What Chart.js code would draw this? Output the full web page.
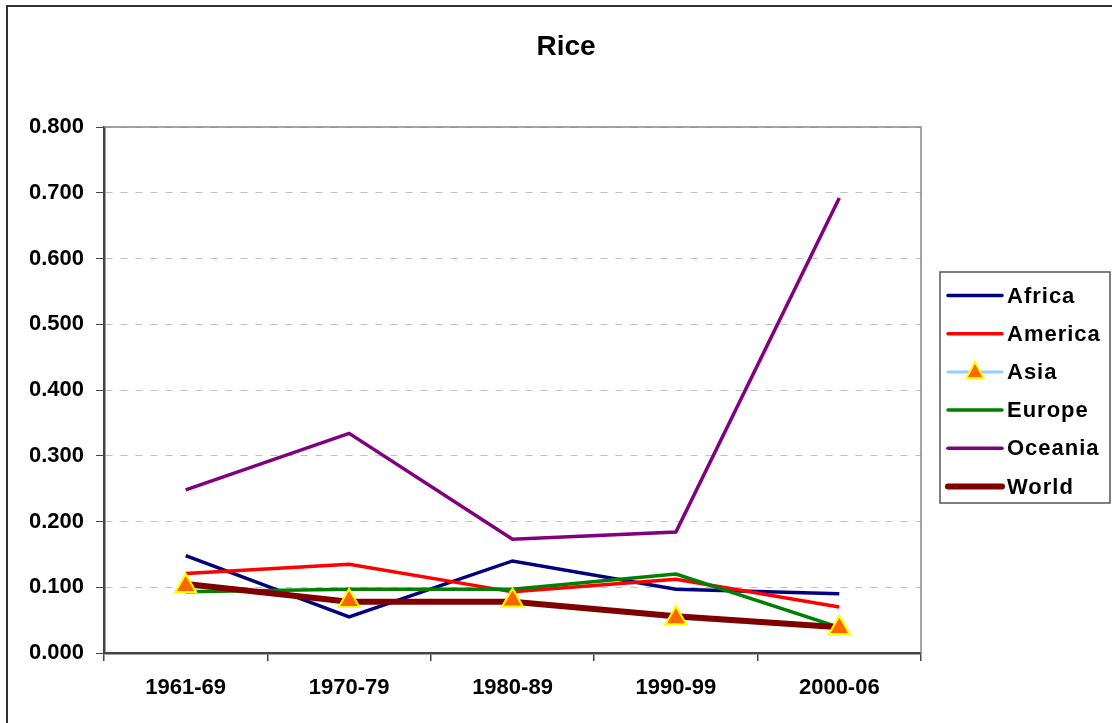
<!DOCTYPE html>
<html>
<head>
<meta charset="utf-8">
<script src="https://cdn.jsdelivr.net/npm/chart.js@4/dist/chart.umd.min.js"></script>
<style>
  html, body { margin: 0; padding: 0; background: #fff; }
  #wrap { width: 1112px; height: 723px; }
</style>
</head>
<body>
<div id="wrap"><canvas id="myChart" width="1112" height="723"></canvas></div>
<script>
  const categories = ['1961-69', '1970-79', '1980-89', '1990-99', '2000-06'];
  const africa = [0.148, 0.055, 0.140, 0.097, 0.090];
  const america = [0.121, 0.135, 0.093, 0.112, 0.070];
  const asia = [0.102, 0.079, 0.080, 0.053, 0.038];
  const europe = [0.093, 0.097, 0.097, 0.120, 0.039];
  const oceania = [0.248, 0.334, 0.173, 0.184, 0.692];
  const world = [0.105, 0.078, 0.078, 0.056, 0.039];
  const yTicks = [0, 0.1, 0.2, 0.3, 0.4, 0.5, 0.6, 0.7, 0.8];

  const FONT = 'Liberation Sans, Arial, sans-serif';

  // title, borders and legend drawn by hand (Excel style)
  const decor = {
    id: 'decor',
    beforeDraw(chart) {
      const c = chart.ctx;
      c.save();
      c.fillStyle = '#fff';
      c.fillRect(0, 0, chart.width, chart.height);
      c.restore();
    },
    afterDatasetsDraw(chart) {
      // asia markers on top of every line
      const meta = chart.getDatasetMeta(2);
      meta.data.forEach(p => p.draw(chart.ctx, chart.chartArea));
    },
    afterDraw(chart) {
      const c = chart.ctx;
      const a = chart.chartArea;
      c.save();
      // outer frame
      c.strokeStyle = '#333';
      c.lineWidth = 2;
      c.strokeRect(7, 6, 1200, 800);
      // plot area top / right edge
      c.strokeStyle = '#888';
      c.lineWidth = 1.5;
      c.beginPath();
      c.moveTo(a.left, a.top);
      c.lineTo(a.right, a.top);
      c.lineTo(a.right, a.bottom);
      c.stroke();
      // title
      c.fillStyle = '#000';
      c.font = 'bold 28px ' + FONT;
      c.textAlign = 'center';
      c.textBaseline = 'middle';
      c.fillText('Rice', 566, 47);
      // legend
      c.strokeStyle = '#555';
      c.lineWidth = 1.5;
      c.strokeRect(940, 272, 170, 231);
      c.font = 'bold 22px ' + FONT;
      c.textAlign = 'left';
      c.letterSpacing = '1px';
      chart.data.datasets.forEach((ds, i) => {
        const y = 295.5 + i * 38.2;
        c.strokeStyle = ds.borderColor;
        c.lineWidth = ds.borderWidth;
        c.lineCap = 'round';
        c.beginPath();
        c.moveTo(948, y);
        c.lineTo(1002, y);
        c.stroke();
        if (ds.pointRadius > 0) {
          c.fillStyle = ds.pointBackgroundColor;
          c.strokeStyle = ds.pointBorderColor;
          c.lineWidth = ds.pointBorderWidth;
          c.lineJoin = 'miter';
          c.beginPath();
          c.moveTo(975, y - 10);
          c.lineTo(983.5, y + 6);
          c.lineTo(966.5, y + 6);
          c.closePath();
          c.fill();
          c.stroke();
        }
        c.fillStyle = '#000';
        c.fillText(ds.label, 1007, y + 1);
      });
      c.restore();
    }
  };

  function lineSet(label, data, color, width, order) {
    return {
      label: label,
      data: data,
      borderColor: color,
      backgroundColor: color,
      borderWidth: width,
      pointRadius: 0,
      pointHoverRadius: 0,
      tension: 0,
      fill: false,
      order: order
    };
  }

  const asiaSet = lineSet('Asia', asia, '#99ccff', 3, 4);
  asiaSet.pointStyle = 'triangle';
  asiaSet.pointRadius = 12;
  asiaSet.pointBackgroundColor = '#ff6600';
  asiaSet.pointBorderColor = '#ffff00';
  asiaSet.pointBorderWidth = 2;

  const ctx = document.getElementById('myChart').getContext('2d');

  const myChart = new Chart(ctx, {
    type: 'line',
    data: {
      labels: categories,
      datasets: [
        lineSet('Africa', africa, '#000080', 3.5, 6),
        lineSet('America', america, '#ff0000', 3.5, 5),
        asiaSet,
        lineSet('Europe', europe, '#008000', 3.5, 3),
        lineSet('Oceania', oceania, '#800080', 3.5, 2),
        lineSet('World', world, '#800000', 6, 1)
      ]
    },
    plugins: [decor],
    options: {
      responsive: false,
      animation: false,
      events: [],
      layout: {
        padding: { left: 30, right: 191, top: 127, bottom: 20 }
      },
      plugins: {
        legend: { display: false },
        title: { display: false },
        tooltip: { enabled: false }
      },
      scales: {
        x: {
          offset: true,
          grid: {
            offset: true,
            drawOnChartArea: false,
            tickLength: 8,
            tickColor: '#444',
            lineWidth: 1.5
          },
          border: { color: '#444', width: 2.5 },
          ticks: {
            color: '#000',
            padding: 14,
            font: { family: FONT, size: 22, weight: 'bold' }
          },
          afterFit(scale) { scale.height = 50; }
        },
        y: {
          min: 0,
          max: 0.8,
          afterBuildTicks(scale) {
            scale.ticks = yTicks.map(v => ({ value: v }));
          },
          grid: {
            color: '#c0c0c0',
            tickColor: '#444',
            tickLength: 8,
            lineWidth: 1
          },
          border: { color: '#444', width: 2.5, dash: [7, 8] },
          ticks: {
            color: '#000',
            padding: 12,
            font: { family: FONT, size: 22, weight: 'bold' },
            callback: v => Number(v).toFixed(3)
          },
          afterFit(scale) { scale.width = 74; }
        }
      }
    }
  });
</script>
</body>
</html>
